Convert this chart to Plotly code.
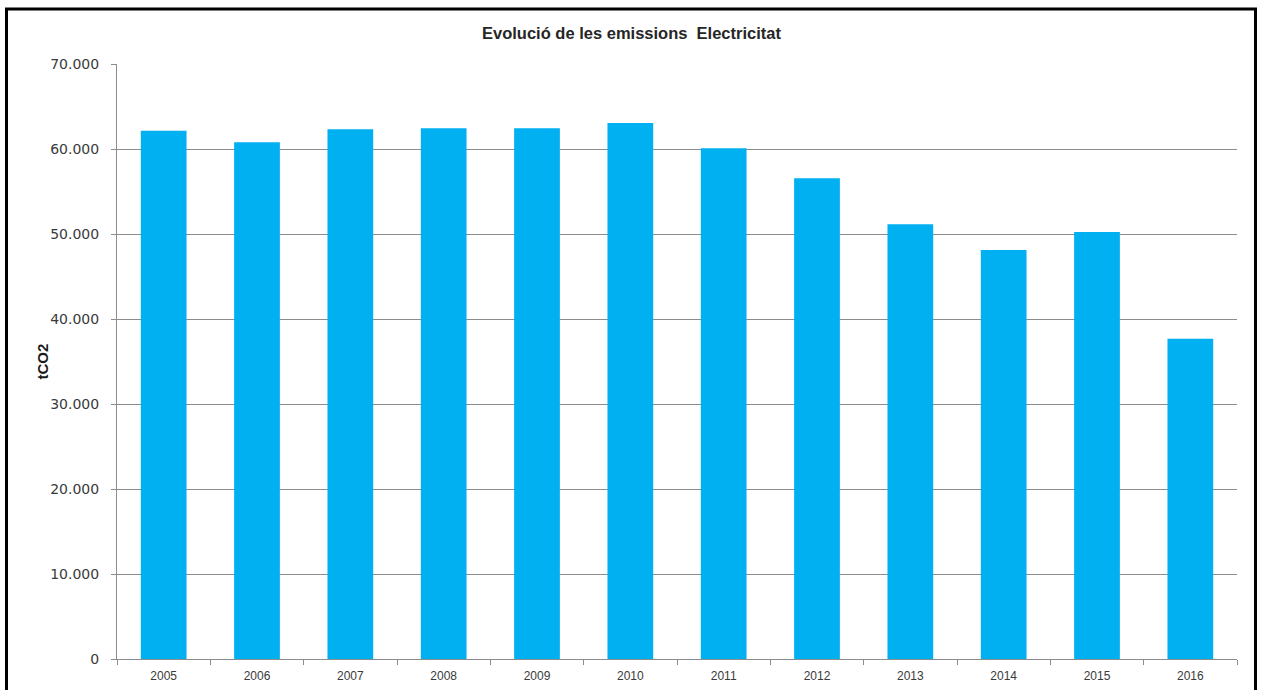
import plotly.graph_objects as go

years = ["2005", "2006", "2007", "2008", "2009", "2010",
         "2011", "2012", "2013", "2014", "2015", "2016"]
emissions = [62150, 60790, 62320, 62430, 62430, 63060,
             60100, 56550, 51140, 48120, 50240, 37680]
y_ticks = [0, 10000, 20000, 30000, 40000, 50000, 60000, 70000]

GRID = "#8c8c8c"

fig = go.Figure()
fig.add_trace(go.Bar(
    x=years, y=emissions,
    marker=dict(color="#00B0F0", line=dict(width=0)),
    showlegend=False,
))

fig.update_layout(
    width=1263, height=690,
    margin=dict(l=117, r=26, t=64, b=31),
    paper_bgcolor="white", plot_bgcolor="white",
    separators=",.",
    bargap=0.51,
    title=dict(
        text="Evolució de les emissions  Electricitat",
        x=0.5, xref="container", xanchor="center",
        y=1 - 33 / 690, yref="container", yanchor="middle",
        font=dict(family="Liberation Sans", size=16.5, color="#262626", weight="bold"),
    ),
)

fig.update_xaxes(
    type="category",
    automargin=False,
    showgrid=False,
    showline=True, linecolor=GRID, linewidth=1,
    ticks="outside", tickson="boundaries", ticklen=5, tickcolor=GRID,
    ticklabelstandoff=6,
    tickfont=dict(family="Liberation Sans", size=12, color="#3a3a3a"),
)
fig.update_yaxes(
    range=[0, 70000],
    automargin=False,
    tickvals=y_ticks,
    tickformat=",d",
    showgrid=True, gridcolor=GRID, gridwidth=1,
    showline=True, linecolor=GRID, linewidth=1,
    zeroline=False,
    ticks="outside", ticklen=5, tickcolor=GRID,
    ticklabelstandoff=9,
    tickfont=dict(family="DejaVu Sans", size=14, color="#3a3a3a"),
)

fig.add_annotation(
    text="tCO2", xref="paper", yref="paper",
    x=(42 - 117) / 1120, y=0.5, xanchor="center", yanchor="middle",
    textangle=-90, showarrow=False,
    font=dict(family="Liberation Sans", size=15, color="#1a1a1a", weight="bold"),
)

# black frame around the whole chart
fig.add_shape(
    type="rect", xref="paper", yref="paper",
    x0=(6.5 - 117) / 1120, x1=(1255.5 - 117) / 1120,
    y0=(659 - 695) / 595, y1=(659 - 9) / 595,
    line=dict(color="black", width=3), fillcolor="rgba(0,0,0,0)",
    layer="above",
)

# drop the page's default body margin so the figure sits at the window origin
fig.write_html(
    "out.html",
    config={"displayModeBar": False},
    post_script="document.body.style.margin='0';document.body.style.overflow='hidden';",
)
